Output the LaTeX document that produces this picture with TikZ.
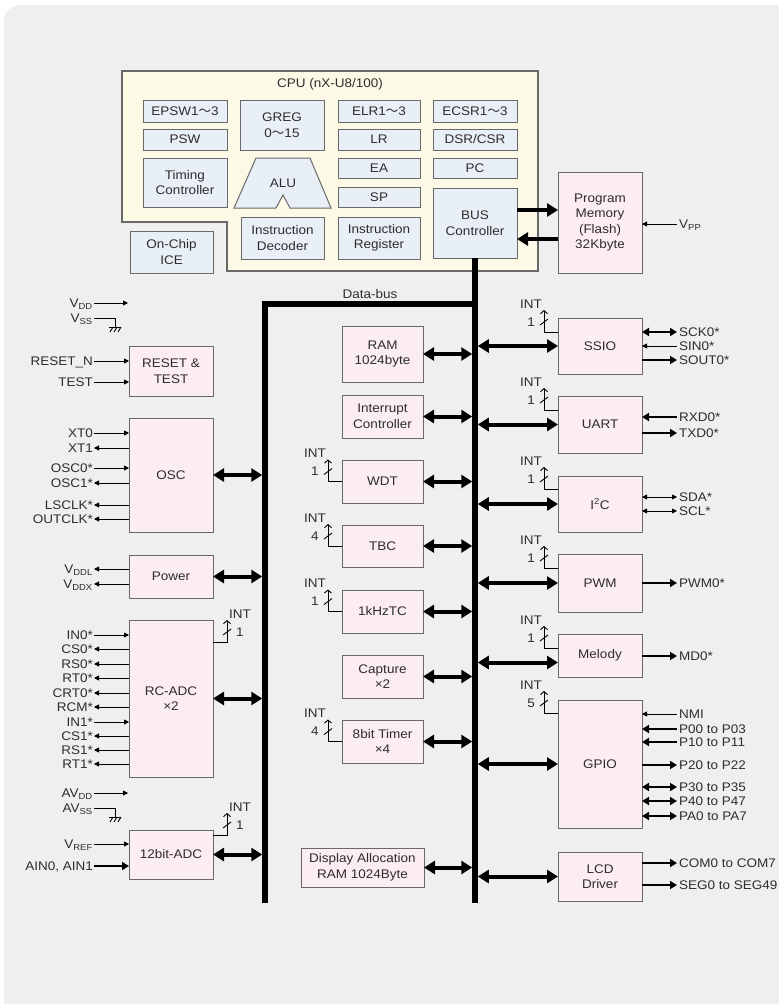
\documentclass[tikz,border=0pt]{standalone}
\usepackage{fontspec}
\setmainfont{Liberation Sans}[FakeStretch=1.08]
\newfontfamily\cjk{Noto Sans CJK JP}
\usetikzlibrary{arrows.meta,calc}
\definecolor{bgc}{RGB}{239,239,239}
\definecolor{pinkc}{RGB}{251,237,241}
\definecolor{cpuc}{RGB}{252,250,231}
\definecolor{bluec}{RGB}{233,239,246}
\definecolor{linec}{RGB}{105,105,105}
\definecolor{txtc}{RGB}{45,45,45}
\newcommand\fs{\fontsize{12.5pt}{15.5pt}\selectfont}
\newcommand\wave{{\cjk ～}}
\newcommand\blk[7]{\node[#1, anchor=north west, minimum width={#5-#3}, minimum height={#6-#4}] (#2) at (#3,#4) {#7};}
\newcommand\pinL[5]{\node[lbl] (#2) at (94,#3) {#4};\draw[#1] (#2.east) -- (#2.east -| #5.west);}
\newcommand\pinR[5]{\node[rlbl] (#2) at (677,#3) {#4};\draw[#1] (#2.west -| #5.east) -- (#2.west);}
\newcommand\intw[3]{%
  \draw[th,-{Straight Barb[length=3pt,width=7pt]}] (#2) -- ++(-14pt,0) coordinate (#1iv) -- ++(0,22pt) coordinate (#1it);
  \draw[th] ([shift={(-4pt,7pt)}]#1iv) -- ([shift={(4pt,13pt)}]#1iv);
  \node (#1int) at ([shift={(-13pt,6pt)}]#1it) {INT};
  \node (#1num) at ([shift={(-13pt,10pt)}]#1iv) {#3};}
\newcommand\inte[3]{%
  \draw[th,-{Straight Barb[length=3pt,width=7pt]}] (#2) -- ++(14pt,0) coordinate (#1iv) -- ++(0,22pt) coordinate (#1it);
  \draw[th] ([shift={(-4pt,7pt)}]#1iv) -- ([shift={(4pt,13pt)}]#1iv);
  \node (#1int) at ([shift={(13pt,6pt)}]#1it) {INT};
  \node (#1num) at ([shift={(13pt,10pt)}]#1iv) {#3};}
\newcommand\gnd[1]{%
  \draw[th] ([xshift=-6pt]#1) -- ([xshift=6pt]#1);
  \foreach \d in {-5,-1,3} \draw[th] ([xshift=\d pt, yshift=-5pt]#1) -- ([xshift=\d pt+3pt]#1);}
\begin{document}
\begin{tikzpicture}[x=1pt,y=-1pt,
  every node/.style={font=\fs, text=txtc, inner sep=1pt},
  pbox/.style={draw=linec, fill=pinkc, line width=1pt, align=center, inner sep=0pt, outer sep=0pt},
  cbox/.style={draw=linec, fill=bluec, line width=1pt, align=center, inner sep=0pt, outer sep=0pt},
  lbl/.style={anchor=east, inner sep=1pt, text height=9pt, text depth=0pt},
  rlbl/.style={anchor=west, inner sep=2pt, text height=9pt, text depth=0pt},
  ta/.tip={Triangle[length=5pt,width=5pt]},
  tb/.tip={Triangle[length=7pt,width=8pt]},
  tc/.tip={Triangle[length=11pt,width=13pt]},
  th/.style={line width=0.9pt, black},
  md/.style={line width=2.6pt, black},
  bk/.style={line width=4pt, black},
  bus/.style={line width=5.5pt, black, line join=miter}]
\useasboundingbox (0,0) rectangle (779,1004);
\fill[white] (0,0) rectangle (779,1004);
\fill[bgc, rounded corners=16pt] (4,5) rectangle (810,1040);

% CPU
\draw[linec, line width=1.2pt, fill=cpuc] (122,71) -- (538,71) -- (538,271) -- (227,271) -- (227,222) -- (122,222) -- cycle;
\node (cpu) at (330,84) {CPU (nX-U8/100)};
\blk{cbox}{epsw}{143}{100}{227}{122}{EPSW1\wave3}
\blk{cbox}{psw}{143}{129}{227}{150}{PSW}
\blk{cbox}{timc}{143}{158}{227}{207}{Timing\\Controller}
\blk{cbox}{greg}{240}{100}{324}{150}{GREG\\0\wave15}
\draw[linec, line width=1pt, fill=bluec] (234,208) -- (256,158) -- (310,158) -- (331,208) -- (290,208) -- (283,195) -- (276,208) -- cycle;
\node (alu) at (283,183) {ALU};
\blk{cbox}{idec}{241}{217}{324}{259}{Instruction\\Decoder}
\blk{cbox}{elr}{338}{100}{420}{122}{ELR1\wave3}
\blk{cbox}{lr}{338}{129}{420}{150}{LR}
\blk{cbox}{ea}{338}{158}{420}{178}{EA}
\blk{cbox}{sp}{338}{187}{420}{207}{SP}
\blk{cbox}{ireg}{338}{217}{420}{259}{Instruction\\Register}
\blk{cbox}{ecsr}{433}{100}{517}{122}{ECSR1\wave3}
\blk{cbox}{dsr}{433}{129}{517}{150}{DSR/CSR}
\blk{cbox}{pc}{433}{158}{517}{178}{PC}
\blk{cbox}{busc}{433}{188}{517}{258}{BUS\\Controller}
\blk{cbox}{ice}{130}{231}{213}{273}{On-Chip\\ICE}

% Program memory
\blk{pbox}{pm}{558}{172}{642}{273}{Program\\Memory\\(Flash)\\32Kbyte}
\draw[bk,-tc] ([yshift=13pt]busc.east) -- ([yshift=13pt]busc.east -| pm.west);
\draw[bk,-tc] ([yshift=-16pt]busc.east -| pm.west) -- ([yshift=-16pt]busc.east);
\node[rlbl] (vpp) at (677,224) {V\textsubscript{PP}};
\draw[th,-ta] (vpp.west) -- (vpp.west -| pm.east);

% buses
\coordinate (rbot) at (475,903);
\coordinate (lbot) at (265,903);
\coordinate (ltop) at (265,304);
\draw[bus] (busc.south) -- (rbot);
\draw[bus] (lbot) -- (ltop) -- (ltop -| busc.south);
\node (db) at (370,294) {Data-bus};

% left column
\blk{pbox}{rst}{129}{346}{213}{396}{RESET \&\\TEST}
\blk{pbox}{osc}{129}{418}{213}{532}{OSC}
\blk{pbox}{pwr}{129}{555}{213}{598}{Power}
\blk{pbox}{rcadc}{129}{620}{213}{777}{RC-ADC\\×2}
\blk{pbox}{adc}{129}{830}{213}{879}{12bit-ADC}
\foreach \n in {osc,pwr,rcadc,adc} \draw[bk,tc-tc,shorten >=2.75pt] (\n.east) -- (\n.east -| lbot);

\node[lbl] (vdd) at (94,303) {V\textsubscript{DD}};
\coordinate (vddend) at (128,303);
\draw[th,-ta] (vdd.east) -- (vddend);
\node[lbl] (vss) at (94,318) {V\textsubscript{SS}};
\coordinate (gnda) at (115,327);
\draw[th] (vss.east) -| (gnda);
\gnd{gnda}
\pinL{th,-ta}{rstn}{361}{RESET\_N}{rst}
\pinL{th,-ta}{test}{382}{TEST}{rst}
\pinL{th,-ta}{xt0}{433}{XT0}{osc}
\pinL{th,ta-}{xt1}{448}{XT1}{osc}
\pinL{th,-ta}{osc0}{468}{OSC0*}{osc}
\pinL{th,ta-}{osc1}{483}{OSC1*}{osc}
\pinL{th,ta-}{lsclk}{505}{LSCLK*}{osc}
\pinL{th,ta-}{outclk}{519}{OUTCLK*}{osc}
\pinL{th,ta-}{vddl}{569}{V\textsubscript{DDL}}{pwr}
\pinL{th,ta-}{vddx}{584}{V\textsubscript{DDX}}{pwr}
\pinL{th,-ta}{in0}{635}{IN0*}{rcadc}
\pinL{th,ta-}{cs0}{649}{CS0*}{rcadc}
\pinL{th,ta-}{rs0}{664}{RS0*}{rcadc}
\pinL{th,ta-}{rt0}{678}{RT0*}{rcadc}
\pinL{th,ta-}{crt0}{693}{CRT0*}{rcadc}
\pinL{th,ta-}{rcm}{707}{RCM*}{rcadc}
\pinL{th,-ta}{in1}{722}{IN1*}{rcadc}
\pinL{th,ta-}{cs1}{736}{CS1*}{rcadc}
\pinL{th,ta-}{rs1}{750}{RS1*}{rcadc}
\pinL{th,ta-}{rt1}{764}{RT1*}{rcadc}
\node[lbl] (avdd) at (94,793) {AV\textsubscript{DD}};
\coordinate (avddend) at (128,793);
\draw[th,-ta] (avdd.east) -- (avddend);
\node[lbl] (avss) at (94,808) {AV\textsubscript{SS}};
\coordinate (gndb) at (115,817);
\draw[th] (avss.east) -| (gndb);
\gnd{gndb}
\pinL{th,-ta}{vref}{844}{V\textsubscript{REF}}{adc}
\pinL{md,-tb}{ain}{866}{AIN0, AIN1}{adc}
\inte{rc}{[yshift=-22pt]rcadc.north east}{1}
\inte{ad}{[yshift=-5pt]adc.north east}{1}

% middle column
\blk{pbox}{ram}{342}{326}{423}{382}{RAM\\1024byte}
\blk{pbox}{intc}{342}{395}{423}{438}{Interrupt\\Controller}
\blk{pbox}{wdt}{342}{460}{423}{503}{WDT}
\blk{pbox}{tbc}{342}{525}{423}{567}{TBC}
\blk{pbox}{khz}{342}{590}{423}{633}{1kHzTC}
\blk{pbox}{cap}{342}{655}{423}{698}{Capture\\×2}
\blk{pbox}{tmr}{342}{720}{423}{763}{8bit Timer\\×4}
\blk{pbox}{disp}{301}{848}{424}{887}{Display Allocation\\RAM 1024Byte}
\foreach \n in {ram,intc,wdt,tbc,khz,cap,tmr,disp} \draw[bk,tc-tc,shorten >=2.75pt] (\n.east) -- (\n.east -| rbot);
\intw{wd}{wdt.west}{1}
\intw{tb}{tbc.west}{4}
\intw{kh}{khz.west}{1}
\intw{tm}{tmr.west}{4}

% right column
\blk{pbox}{ssio}{558}{318}{642}{374}{SSIO}
\blk{pbox}{uart}{558}{396}{642}{453}{UART}
\blk{pbox}{iic}{558}{476}{642}{532}{I\textsuperscript{2}C}
\blk{pbox}{pwm}{558}{554}{642}{612}{PWM}
\blk{pbox}{mel}{558}{634}{642}{677}{Melody}
\blk{pbox}{gpio}{558}{700}{642}{828}{GPIO}
\blk{pbox}{lcd}{558}{852}{642}{901}{LCD\\Driver}
\foreach \n in {ssio,uart,iic,pwm,gpio,lcd} \draw[bk,tc-tc,shorten <=2.75pt] (\n.west -| rbot) -- (\n.west);
\draw[bk,tc-tc,shorten <=2.75pt] ([yshift=-7pt]mel.west -| rbot) -- ([yshift=-7pt]mel.west);
\intw{ss}{[yshift=-14pt]ssio.north west}{1}
\intw{ua}{[yshift=-14pt]uart.north west}{1}
\intw{ii}{[yshift=-13pt]iic.north west}{1}
\intw{pw}{[yshift=-14pt]pwm.north west}{1}
\intw{me}{[yshift=-14pt]mel.north west}{1}
\intw{gp}{[yshift=-13pt]gpio.north west}{5}

\pinR{md,tb-tb}{sck}{332}{SCK0*}{ssio}
\pinR{th,ta-}{sin}{346}{SIN0*}{ssio}
\pinR{md,-tb}{sout}{360}{SOUT0*}{ssio}
\pinR{md,tb-}{rxd}{417}{RXD0*}{uart}
\pinR{md,-tb}{txd}{433}{TXD0*}{uart}
\pinR{th,ta-ta}{sda}{497}{SDA*}{iic}
\pinR{th,ta-ta}{scl}{511}{SCL*}{iic}
\pinR{md,-tb}{pwmo}{583}{PWM0*}{pwm}
\pinR{md,-tb}{mdo}{656}{MD0*}{mel}
\pinR{th,ta-}{nmi}{714}{NMI}{gpio}
\pinR{md,tb-}{pzero}{729}{P00 to P03}{gpio}
\pinR{md,tb-}{pone}{742}{P10 to P11}{gpio}
\pinR{md,-tb}{ptwo}{765}{P20 to P22}{gpio}
\pinR{md,tb-tb}{pthree}{787}{P30 to P35}{gpio}
\pinR{md,tb-tb}{pfour}{801}{P40 to P47}{gpio}
\pinR{md,tb-tb}{pa}{816}{PA0 to PA7}{gpio}
\pinR{md,-tb}{com}{863}{COM0 to COM7}{lcd}
\pinR{md,-tb}{seg}{885}{SEG0 to SEG49}{lcd}
\end{tikzpicture}
\end{document}
